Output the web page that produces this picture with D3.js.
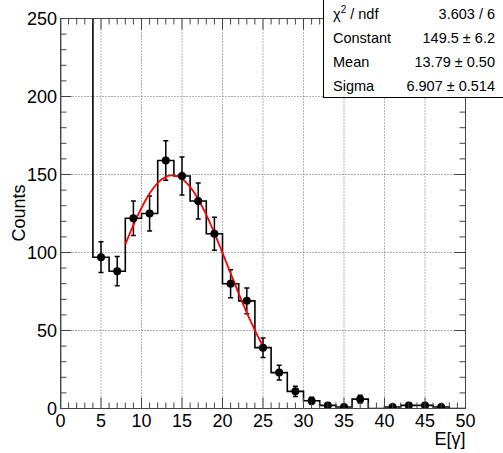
<!DOCTYPE html>
<html>
<head>
<meta charset="utf-8">
<script src="https://cdn.jsdelivr.net/npm/d3@7"></script>
<style>
  html, body { margin: 0; padding: 0; background: #fff; }
  svg { display: block; font-family: "Liberation Sans", Arial, Helvetica, sans-serif; }
</style>
</head>
<body>
<svg id="chart" width="503" height="453"></svg>
<script>
// Histogram of E[γ]: 25 bins of width 2 from 0 to 50
const binEdgesLow = [0, 2, 4, 6, 8, 10, 12, 14, 16, 18, 20, 22, 24, 26, 28, 30, 32, 34, 36, 38, 40, 42, 44, 46, 48];
const counts      = [420, 360, 97, 88, 122, 125, 159, 149, 133, 112, 80, 69, 39, 23, 11, 5, 2, 1, 6, 0, 1, 2, 2, 1, 0];
const binWidth = 2;

// Gaussian fit parameters and fit range
const fitConstant = 149.5;
const fitMean = 13.79;
const fitSigma = 6.907;
const fitRange = [8, 25];

// Statistics box rows
const statLabels = ["χ2 / ndf", "Constant", "Mean", "Sigma"];
const statValues = ["3.603 / 6", "149.5 ± 6.2", "13.79 ± 0.50", "6.907 ± 0.514"];

// Axis tick values
const xTicks = [0, 5, 10, 15, 20, 25, 30, 35, 40, 45, 50];
const yTicks = [0, 50, 100, 150, 200, 250];

const svg = d3.select("#chart");
const frame = { left: 60.5, right: 465.5, top: 18.5, bottom: 408.5 };

const x = d3.scaleLinear().domain([0, 50]).range([frame.left, frame.right]);
const y = d3.scaleLinear().domain([0, 250]).range([frame.bottom, frame.top]);

const axisColor = "#444";

// Grid (dotted) at major ticks
const grid = svg.append("g");
xTicks.slice(1, -1).forEach(v => {
  grid.append("line").attr("x1", x(v)).attr("x2", x(v)).attr("y1", y(0)).attr("y2", y(250))
    .attr("stroke", "#666").attr("stroke-width", 1).attr("stroke-dasharray", "1,2");
});
yTicks.slice(1, -1).forEach(v => {
  grid.append("line").attr("x1", x(0)).attr("x2", x(50)).attr("y1", y(v)).attr("y2", y(v))
    .attr("stroke", "#666").attr("stroke-width", 1).attr("stroke-dasharray", "1,2");
});

// Clip region for plotted data
svg.append("clipPath").attr("id", "frameClip")
  .append("rect").attr("x", frame.left).attr("y", frame.top)
  .attr("width", frame.right - frame.left).attr("height", frame.bottom - frame.top);

const plot = svg.append("g").attr("clip-path", "url(#frameClip)");

// Histogram outline as steps
const stepPts = [[0, 0]];
binEdgesLow.forEach((lo, i) => {
  stepPts.push([lo, counts[i]]);
  stepPts.push([lo + binWidth, counts[i]]);
});
stepPts.push([50, 0]);
plot.append("path")
  .attr("d", d3.line().x(d => x(d[0])).y(d => y(d[1]))(stepPts))
  .attr("fill", "none").attr("stroke", "#000").attr("stroke-width", 1.6);

// Error bars (sqrt N) and markers for non-empty bins in view
const pts = binEdgesLow.map((lo, i) => ({ c: lo + binWidth / 2, n: counts[i] }))
  .filter(d => d.n > 0 && d.n <= 250);
const eb = plot.append("g").attr("stroke", "#000").attr("stroke-width", 1.5);
pts.forEach(d => {
  const e = Math.sqrt(d.n);
  eb.append("line").attr("x1", x(d.c)).attr("x2", x(d.c)).attr("y1", y(d.n - e)).attr("y2", y(d.n + e));
  [d.n - e, d.n + e].forEach(v => {
    eb.append("line").attr("x1", x(d.c) - 2.5).attr("x2", x(d.c) + 2.5).attr("y1", y(v)).attr("y2", y(v));
  });
});

// Gaussian fit curve
const fitX = d3.range(fitRange[0], fitRange[1] + 0.001, 0.1);
const gauss = v => fitConstant * Math.exp(-0.5 * Math.pow((v - fitMean) / fitSigma, 2));
plot.append("path")
  .attr("d", d3.line().x(v => x(v)).y(v => y(gauss(v)))(fitX))
  .attr("fill", "none").attr("stroke", "#ff0000").attr("stroke-width", 1.8);

plot.selectAll("circle.mk").data(pts).join("circle").attr("class", "mk")
  .attr("cx", d => x(d.c)).attr("cy", d => y(d.n)).attr("r", 4).attr("fill", "#000");

// Axes: ticks on all four sides (major every 5 / 50, minor every 1 / 10)
const majLen = 11, minLen = 6;
const axes = svg.append("g").attr("stroke", axisColor).attr("stroke-width", 1);
d3.range(0, 51, 1).forEach(v => {
  const len = v % 5 === 0 ? majLen : minLen;
  axes.append("line").attr("x1", x(v)).attr("x2", x(v)).attr("y1", frame.bottom).attr("y2", frame.bottom - len);
  axes.append("line").attr("x1", x(v)).attr("x2", x(v)).attr("y1", frame.top).attr("y2", frame.top + len);
});
d3.range(0, 251, 10).forEach(v => {
  const len = v % 50 === 0 ? majLen : minLen;
  axes.append("line").attr("x1", frame.left).attr("x2", frame.left + len).attr("y1", y(v)).attr("y2", y(v));
  axes.append("line").attr("x1", frame.right).attr("x2", frame.right - len).attr("y1", y(v)).attr("y2", y(v));
});
axes.append("rect").attr("x", frame.left).attr("y", frame.top)
  .attr("width", frame.right - frame.left).attr("height", frame.bottom - frame.top)
  .attr("fill", "none");

// Tick labels
svg.append("g").selectAll("text").data(xTicks).join("text")
  .attr("x", d => x(d)).attr("y", 427).attr("text-anchor", "middle")
  .attr("font-size", 18).attr("fill", "#000").text(d => d);
svg.append("g").selectAll("text").data(yTicks).join("text")
  .attr("x", 57).attr("y", d => y(d) + 6.5).attr("text-anchor", "end")
  .attr("font-size", 18).attr("fill", "#000").text(d => d);

// Axis titles
svg.append("text").attr("x", frame.right).attr("y", 445).attr("text-anchor", "end")
  .attr("font-size", 18).attr("fill", "#000").text("E[γ]");
svg.append("text").attr("transform", "translate(25,213) rotate(-90)").attr("text-anchor", "middle")
  .attr("font-size", 18).attr("fill", "#000").text("Counts");

// Statistics box
const box = svg.append("g");
box.append("rect").attr("x", 323.5).attr("y", -1).attr("width", 185).attr("height", 98.5)
  .attr("fill", "#fff").attr("stroke", "#000").attr("stroke-width", 1);
const rowY = [19, 43, 67, 91];
statLabels.forEach((lab, i) => {
  const t = box.append("text").attr("x", 333).attr("y", rowY[i]).attr("font-size", 14.5).attr("fill", "#000");
  if (i === 0) {
    t.append("tspan").text("χ");
    t.append("tspan").attr("font-size", 10).attr("dy", -6).text("2");
    t.append("tspan").attr("dy", 6).text(" / ndf");
  } else {
    t.text(lab);
  }
  box.append("text").attr("x", 495).attr("y", rowY[i]).attr("text-anchor", "end")
    .attr("font-size", 14.5).attr("fill", "#000").text(statValues[i]);
});
</script>
</body>
</html>
